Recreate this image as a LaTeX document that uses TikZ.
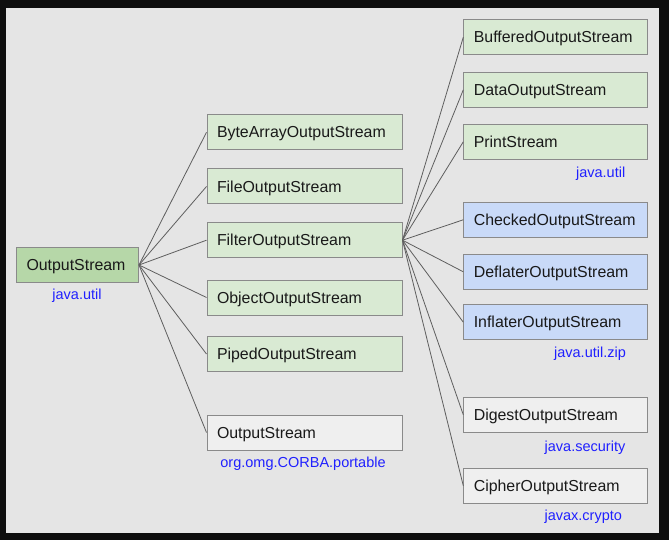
\documentclass[tikz,border=0pt]{standalone}
\usepackage{fontspec}
\setmainfont{Liberation Sans}
\usepackage{tikz}
\usepackage{xcolor}
\definecolor{frame}{HTML}{0E0E0E}
\definecolor{paper}{HTML}{E5E5E5}
\definecolor{rootgreen}{HTML}{B6D7A8}
\definecolor{lightgreen}{HTML}{D9EAD3}
\definecolor{lightblue}{HTML}{C9DAF8}
\definecolor{lightgray}{HTML}{EFEFEF}
\definecolor{boxline}{HTML}{8A8A8A}
\definecolor{linkgray}{HTML}{5E5E5E}
\definecolor{pkgblue}{HTML}{2020FF}
\tikzset{
  cls/.style={draw=boxline, line width=1pt, rectangle, anchor=west,
    minimum height=35pt, inner xsep=10pt, inner ysep=0pt, text width=#1,
    text height=14pt, text depth=2.7pt,
    align=left, text=black!90, font=\fontsize{15.9}{18}\selectfont},
  pkg/.style={text=pkgblue, inner sep=0pt, font=\fontsize{14.5}{16}\selectfont},
  link/.style={draw=linkgray, line width=0.8pt}
}

\begin{document}
\begin{tikzpicture}[x=1pt, y=-1pt]
    \useasboundingbox (0, 0) rectangle (669, 540);
    \fill [frame] (0, 0) rectangle (669, 540);
    \fill [paper] (6, 8) rectangle (659, 533);

    % root
    \node [cls=102pt, fill=rootgreen] (out) at (16, 265) {OutputStream};
    \node [pkg] (outpkg) at (77, 296) {java.util};

    % middle column
    \node [cls=175pt, fill=lightgreen] (bytearray) at (206.5, 132.3) {ByteArrayOutputStream};
    \node [cls=175pt, fill=lightgreen] (file) at (206.5, 186.5) {FileOutputStream};
    \node [cls=175pt, fill=lightgreen] (filter) at (206.5, 240.2) {FilterOutputStream};
    \node [cls=175pt, fill=lightgreen] (object) at (206.5, 297.5) {ObjectOutputStream};
    \node [cls=175pt, fill=lightgreen] (piped) at (206.5, 354) {PipedOutputStream};
    \node [cls=175pt, fill=lightgray] (corba) at (206.5, 432.5) {OutputStream};
    \node [pkg] (corbapkg) at (303, 463.5) {org.omg.CORBA.portable};

    % right column
    \node [cls=164pt, fill=lightgreen] (buffered) at (463.3, 37.2) {BufferedOutputStream};
    \node [cls=164pt, fill=lightgreen] (data) at (463.3, 89.8) {DataOutputStream};
    \node [cls=164pt, fill=lightgreen] (print) at (463.3, 141.8) {PrintStream};
    \node [pkg] (printpkg) at (600.7, 173.3) {java.util};
    \node [cls=164pt, fill=lightblue] (checked) at (463.3, 219.8) {CheckedOutputStream};
    \node [cls=164pt, fill=lightblue] (deflater) at (463.3, 271.8) {DeflaterOutputStream};
    \node [cls=164pt, fill=lightblue] (inflater) at (463.3, 322.2) {InflaterOutputStream};
    \node [pkg] (zippkg) at (590, 353.3) {java.util.zip};
    \node [cls=164pt, fill=lightgray] (digest) at (463.3, 414.8) {DigestOutputStream};
    \node [pkg] (digestpkg) at (585, 447.7) {java.security};
    \node [cls=164pt, fill=lightgray] (cipher) at (463.3, 485.8) {CipherOutputStream};
    \node [pkg] (cipherpkg) at (583.3, 516.7) {javax.crypto};

    % connectors
    \foreach \c in {bytearray, file, filter, object, piped, corba}
        \draw [link] (out.east) -- (\c.west);
    \foreach \c in {buffered, data, print, checked, deflater, inflater, digest, cipher}
        \draw [link] (filter.east) -- (\c.west);
\end{tikzpicture}
\end{document}
